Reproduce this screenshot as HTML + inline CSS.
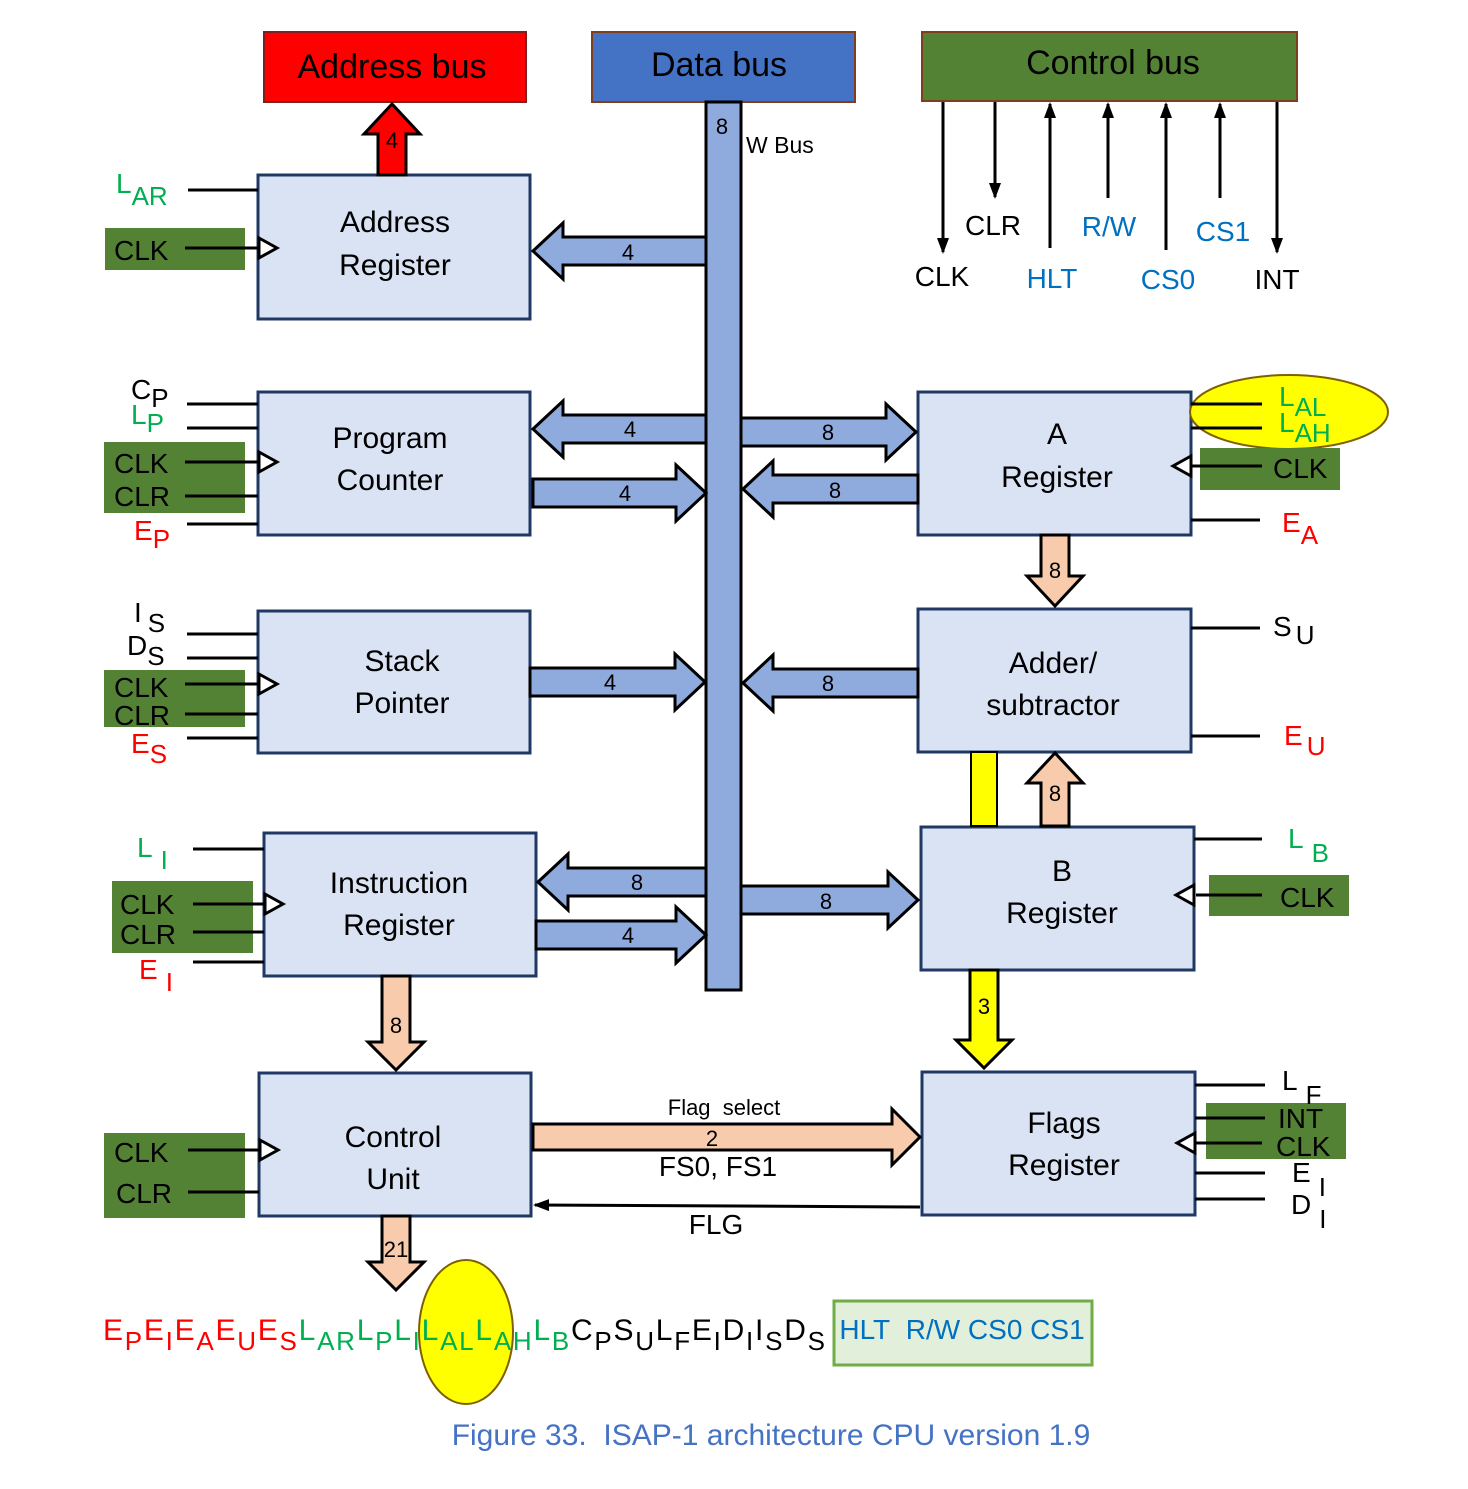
<!DOCTYPE html>
<html><head><meta charset="utf-8"><style>
html,body{margin:0;padding:0;background:#fff}
svg{display:block;font-family:"Liberation Sans",sans-serif}
.blk{fill:#dae3f3;stroke:#1f3864;stroke-width:3}
.ba{fill:#8faadc;stroke:#000;stroke-width:3}
.pe{fill:#f8cbad;stroke:#000;stroke-width:3}
.ye{fill:#ffff00;stroke:#000;stroke-width:3}
.ln{stroke:#000;stroke-width:3}
.gb{fill:#548235}
.t{font-size:30px;text-anchor:middle}
.s{font-size:28px}
.n{font-size:22px;text-anchor:middle}
.g{fill:#00b050}.r{fill:#ff0000}.b{fill:#0070c0}
</style></head><body>
<svg width="1468" height="1489" viewBox="0 0 1468 1489">
<rect x="264" y="32" width="262" height="70" fill="#ff0000" stroke="#7f1f1f" stroke-width="2"/>
<text x="392" y="78" class="t" style="font-size:34px">Address bus</text>
<rect x="592" y="32" width="263" height="70" fill="#4472c4" stroke="#7f3f1f" stroke-width="2"/>
<text x="719" y="76" class="t" style="font-size:34px">Data bus</text>
<rect x="922" y="32" width="375" height="69" fill="#548235" stroke="#7f3f1f" stroke-width="2"/>
<text x="1113" y="74" class="t" style="font-size:34px">Control bus</text>

<rect x="706" y="102" width="35" height="888" class="ba"/>
<text x="722" y="134" class="n">8</text>
<text x="746" y="153" style="font-size:23px">W Bus</text>

<defs><marker id="ah2" markerWidth="16" markerHeight="16" refX="14" refY="8" orient="auto" markerUnits="userSpaceOnUse"><path d="M0,2 L16,8 L0,14 Z"/></marker></defs>
<g stroke="#000" stroke-width="3" marker-end="url(#ah2)">
<line x1="943" y1="102" x2="943" y2="252"/>
<line x1="995" y1="102" x2="995" y2="197"/>
<line x1="1050" y1="248" x2="1050" y2="104"/>
<line x1="1108" y1="198" x2="1108" y2="104"/>
<line x1="1166" y1="250" x2="1166" y2="104"/>
<line x1="1220" y1="198" x2="1220" y2="104"/>
<line x1="1277" y1="102" x2="1277" y2="252"/>
</g>
<g class="t" style="font-size:28px">
<text x="942" y="286">CLK</text><text x="993" y="235">CLR</text>
<text x="1052" y="288" class="b">HLT</text><text x="1109" y="236" class="b">R/W</text>
<text x="1168" y="289" class="b">CS0</text><text x="1223" y="241" class="b">CS1</text>
<text x="1277" y="289">INT</text></g>

<rect x="258" y="175" width="272" height="144" class="blk"/>
<text x="395" y="232" class="t">Address</text><text x="395" y="275" class="t">Register</text>
<rect x="258" y="392" width="272" height="143" class="blk"/>
<text x="390" y="448" class="t">Program</text><text x="390" y="490" class="t">Counter</text>
<rect x="258" y="611" width="272" height="142" class="blk"/>
<text x="402" y="671" class="t">Stack</text><text x="402" y="713" class="t">Pointer</text>
<rect x="264" y="833" width="272" height="143" class="blk"/>
<text x="399" y="893" class="t">Instruction</text><text x="399" y="935" class="t">Register</text>
<rect x="259" y="1073" width="272" height="143" class="blk"/>
<text x="393" y="1147" class="t">Control</text><text x="393" y="1189" class="t">Unit</text>
<rect x="918" y="392" width="273" height="143" class="blk"/>
<text x="1057" y="444" class="t">A</text><text x="1057" y="487" class="t">Register</text>
<rect x="918" y="609" width="273" height="143" class="blk"/>
<text x="1053" y="673" class="t">Adder/</text><text x="1053" y="715" class="t">subtractor</text>
<rect x="921" y="827" width="273" height="143" class="blk"/>
<text x="1062" y="881" class="t">B</text><text x="1062" y="923" class="t">Register</text>
<rect x="922" y="1072" width="273" height="143" class="blk"/>
<text x="1064" y="1133" class="t">Flags</text><text x="1064" y="1175" class="t">Register</text>

<polygon class="ba" points="533,251 563,223 563,237 706,237 706,265 563,265 563,279"/>
<text x="628" y="260" class="n">4</text>
<polygon class="ba" points="533,429 563,401 563,415 706,415 706,443 563,443 563,457"/>
<text x="630" y="437" class="n">4</text>
<polygon class="ba" points="706,493 676,465 676,479 533,479 533,507 676,507 676,521"/>
<text x="625" y="501" class="n">4</text>
<polygon class="ba" points="916,432 886,404 886,418 741,418 741,446 886,446 886,460"/>
<text x="828" y="440" class="n">8</text>
<polygon class="ba" points="743,489 773,461 773,475 918,475 918,503 773,503 773,517"/>
<text x="835" y="498" class="n">8</text>
<polygon class="ba" points="705,682 675,654 675,668 530,668 530,696 675,696 675,710"/>
<text x="610" y="690" class="n">4</text>
<polygon class="ba" points="743,683 773,655 773,669 918,669 918,697 773,697 773,711"/>
<text x="828" y="691" class="n">8</text>
<polygon class="ba" points="538,882 568,854 568,868 706,868 706,896 568,896 568,910"/>
<text x="637" y="890" class="n">8</text>
<polygon class="ba" points="706,935 676,907 676,921 536,921 536,949 676,949 676,963"/>
<text x="628" y="943" class="n">4</text>
<polygon class="ba" points="918,900 888,872 888,886 741,886 741,914 888,914 888,928"/>
<text x="826" y="909" class="n">8</text>
<polygon class="pe" points="920,1137 892,1109 892,1124 533,1124 533,1150 892,1150 892,1165"/>
<text x="712" y="1146" class="n">2</text>
<text x="724" y="1115" class="n">Flag&#160; select</text>
<text x="718" y="1176" class="t" style="font-size:28px">FS0, FS1</text>
<line x1="920" y1="1207" x2="535" y2="1205" class="ln" marker-end="url(#ah2)"/>
<text x="716" y="1234" class="t" style="font-size:28px">FLG</text>

<polygon points="392,104 364,134 378,134 378,175 406,175 406,134 420,134" fill="#ff0000" stroke="#000" stroke-width="3"/>
<text x="392" y="148" class="n">4</text>
<polygon class="pe" points="1055,606 1027,576 1041,576 1041,535 1069,535 1069,576 1083,576"/>
<text x="1055" y="578" class="n">8</text>
<polygon class="pe" points="1055,753 1027,783 1041,783 1041,826 1069,826 1069,783 1083,783"/>
<text x="1055" y="801" class="n">8</text>
<rect x="971" y="752" width="26" height="74" fill="#ffff00" stroke="#000" stroke-width="2"/>
<polygon class="ye" points="984,1068 956,1040 970,1040 970,970 998,970 998,1040 1012,1040"/>
<text x="984" y="1014" class="n">3</text>
<polygon class="pe" points="396,1070 368,1042 382,1042 382,976 410,976 410,1042 424,1042"/>
<text x="396" y="1033" class="n">8</text>
<polygon class="pe" points="396,1290 368,1262 382,1262 382,1216 410,1216 410,1262 424,1262"/>
<text x="396" y="1257" class="n">21</text>

<g class="ln">
<line x1="188" y1="190" x2="258" y2="190"/>
<line x1="187" y1="404" x2="258" y2="404"/><line x1="187" y1="428" x2="258" y2="428"/>
<line x1="187" y1="524" x2="258" y2="524"/>
<line x1="187" y1="634" x2="258" y2="634"/><line x1="187" y1="658" x2="258" y2="658"/>
<line x1="187" y1="738" x2="258" y2="738"/>
<line x1="193" y1="849" x2="264" y2="849"/>
<line x1="193" y1="962" x2="264" y2="962"/>
</g>
<rect x="105" y="228" width="140" height="42" class="gb"/>
<rect x="104" y="442" width="141" height="71" class="gb"/>
<rect x="104" y="670" width="141" height="57" class="gb"/>
<rect x="112" y="881" width="141" height="72" class="gb"/>
<rect x="104" y="1133" width="141" height="85" class="gb"/>
<g class="ln">
<line x1="185" y1="248" x2="258" y2="248"/><line x1="185" y1="462" x2="258" y2="462"/><line x1="185" y1="496" x2="258" y2="496"/>
<line x1="185" y1="684" x2="258" y2="684"/><line x1="185" y1="714" x2="258" y2="714"/>
<line x1="193" y1="904" x2="264" y2="904"/><line x1="193" y1="932" x2="264" y2="932"/>
<line x1="188" y1="1150" x2="259" y2="1150"/><line x1="188" y1="1192" x2="259" y2="1192"/>
</g>
<g fill="#fff" stroke="#000" stroke-width="3">
<polygon points="259,238 277,248 259,258"/><polygon points="259,452 277,462 259,472"/>
<polygon points="259,674 277,684 259,694"/><polygon points="265,894 283,904 265,914"/>
<polygon points="260,1140 278,1150 260,1160"/>
</g>
<g class="s">
<text x="116" y="193" class="g">L<tspan dy="12" font-size="26">AR</tspan></text>
<text x="114" y="260">CLK</text>
<text x="131" y="399">C<tspan dy="8" font-size="26">P</tspan></text>
<text x="131" y="424" class="g">L<tspan dy="8" font-size="26">P</tspan></text>
<text x="114" y="473">CLK</text><text x="114" y="506">CLR</text>
<text x="134" y="540" class="r">E<tspan dy="8" font-size="26">P</tspan></text>
<text x="134" y="622">I<tspan dy="10" font-size="26" dx="6">S</tspan></text>
<text x="127" y="655">D<tspan dy="10" font-size="26">S</tspan></text>
<text x="114" y="697">CLK</text><text x="114" y="725">CLR</text>
<text x="131" y="753" class="r">E<tspan dy="10" font-size="26">S</tspan></text>
<text x="137" y="857" class="g">L<tspan dy="12" font-size="26" dx="8">I</tspan></text>
<text x="120" y="914">CLK</text><text x="120" y="944">CLR</text>
<text x="139" y="979" class="r">E<tspan dy="12" font-size="26" dx="8">I</tspan></text>
<text x="114" y="1162">CLK</text><text x="116" y="1203">CLR</text>
</g>

<ellipse cx="1289" cy="412" rx="99" ry="37" fill="#ffff00" stroke="#7f6000" stroke-width="2"/>
<rect x="1200" y="448" width="140" height="42" class="gb"/>
<rect x="1209" y="875" width="140" height="41" class="gb"/>
<rect x="1206" y="1103" width="140" height="56" class="gb"/>
<g class="ln">
<line x1="1191" y1="404" x2="1262" y2="404"/><line x1="1191" y1="428" x2="1262" y2="428"/>
<line x1="1192" y1="466" x2="1262" y2="466"/><line x1="1191" y1="520" x2="1260" y2="520"/>
<line x1="1191" y1="628" x2="1260" y2="628"/><line x1="1191" y1="736" x2="1260" y2="736"/>
<line x1="1194" y1="839" x2="1262" y2="839"/><line x1="1196" y1="895" x2="1262" y2="895"/>
<line x1="1195" y1="1085" x2="1265" y2="1085"/><line x1="1195" y1="1118" x2="1265" y2="1118"/>
<line x1="1196" y1="1143" x2="1262" y2="1143"/><line x1="1195" y1="1173" x2="1265" y2="1173"/>
<line x1="1195" y1="1199" x2="1265" y2="1199"/>
</g>
<g fill="#fff" stroke="#000" stroke-width="3">
<polygon points="1191,456 1173,466 1191,476"/><polygon points="1194,885 1176,895 1194,905"/>
<polygon points="1195,1133 1177,1143 1195,1153"/>
</g>
<g class="s">
<text x="1279" y="406" class="g">L<tspan dy="10" font-size="26">AL</tspan></text>
<text x="1279" y="432" class="g">L<tspan dy="10" font-size="26">AH</tspan></text>
<text x="1273" y="478">CLK</text>
<text x="1282" y="532" class="r">E<tspan dy="12" font-size="26">A</tspan></text>
<text x="1273" y="636">S<tspan dy="8" font-size="26" dx="4">U</tspan></text>
<text x="1284" y="745" class="r">E<tspan dy="10" font-size="26" dx="4">U</tspan></text>
<text x="1288" y="848" class="g">L<tspan dy="14" font-size="26" dx="8">B</tspan></text>
<text x="1280" y="907">CLK</text>
<text x="1282" y="1090">L<tspan dy="14" font-size="26" dx="8">F</tspan></text>
<text x="1278" y="1128">INT</text><text x="1276" y="1156">CLK</text>
<text x="1292" y="1182">E<tspan dy="14" font-size="26" dx="8">I</tspan></text>
<text x="1291" y="1214">D<tspan dy="14" font-size="26" dx="8">I</tspan></text>
</g>

<ellipse cx="466" cy="1332" rx="47" ry="72" fill="#ffff00" stroke="#7f6000" stroke-width="2"/>
<rect x="834" y="1301" width="258" height="64" fill="#e2efda" stroke="#70ad47" stroke-width="3"/>
<text x="962" y="1339" class="t b" style="font-size:28px">HLT&#160; R/W CS0 CS1</text>
<text x="103" y="1340" font-size="30" textLength="722" lengthAdjust="spacing"><tspan class="r">E<tspan dy="10" font-size="26">P</tspan><tspan dy="-10">E</tspan><tspan dy="10" font-size="26">I</tspan><tspan dy="-10">E</tspan><tspan dy="10" font-size="26">A</tspan><tspan dy="-10">E</tspan><tspan dy="10" font-size="26">U</tspan><tspan dy="-10">E</tspan><tspan dy="10" font-size="26">S</tspan></tspan><tspan class="g" dy="-10">L<tspan dy="10" font-size="26">AR</tspan><tspan dy="-10">L</tspan><tspan dy="10" font-size="26">P</tspan><tspan dy="-10">L</tspan><tspan dy="10" font-size="26">I</tspan><tspan dy="-10">L</tspan><tspan dy="10" font-size="26">AL</tspan><tspan dy="-10">L</tspan><tspan dy="10" font-size="26">AH</tspan><tspan dy="-10">L</tspan><tspan dy="10" font-size="26">B</tspan></tspan><tspan dy="-10">C</tspan><tspan dy="10" font-size="26">P</tspan><tspan dy="-10">S</tspan><tspan dy="10" font-size="26">U</tspan><tspan dy="-10">L</tspan><tspan dy="10" font-size="26">F</tspan><tspan dy="-10">E</tspan><tspan dy="10" font-size="26">I</tspan><tspan dy="-10">D</tspan><tspan dy="10" font-size="26">I</tspan><tspan dy="-10">I</tspan><tspan dy="10" font-size="26">S</tspan><tspan dy="-10">D</tspan><tspan dy="10" font-size="26">S</tspan></text>
<text x="771" y="1445" class="t" style="font-size:30px;fill:#4472c4">Figure 33.&#160; ISAP-1 architecture CPU version 1.9</text>
</svg>
</body></html>
